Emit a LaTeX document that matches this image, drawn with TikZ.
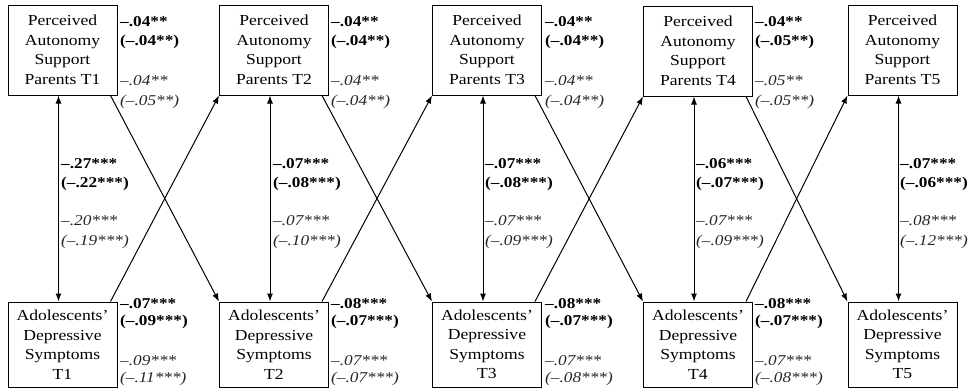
\documentclass[tikz,border=0pt]{standalone}
\usepackage{fontspec}
\setmainfont{Liberation Serif}[FakeStretch=1.15]
\usetikzlibrary{arrows.meta}
\newcommand\coefpair[7]{%
  \node[#5,anchor=base west] (#1a) at (#2,#3) {#6};
  \node[#5,anchor=base west] (#1b) at (#2,#4) {#7};}
\begin{document}
\begin{tikzpicture}[x=1pt,y=-1pt,
  varbox/.style={draw,line width=1pt,inner sep=0pt,minimum width=109pt,align=center,
    font=\fontsize{15.3}{19.5}\selectfont},
  topbox/.style={varbox,minimum height=90pt},
  botbox/.style={varbox,minimum height=85pt},
  bcoef/.style={inner sep=0pt,font=\fontsize{15}{18}\selectfont\bfseries},
  icoef/.style={inner sep=0pt,font=\fontsize{15}{18}\selectfont\itshape,text=black!85},
  conn/.style={line width=1pt,-{Latex[length=8pt,width=6pt]}},
  biconn/.style={line width=1pt,{Latex[length=8pt,width=6pt]}-{Latex[length=8pt,width=6pt]}}]
\useasboundingbox (0,0) rectangle (969,389);
% top boxes
\node[topbox] (p1) at (62.5,50) {Perceived\\Autonomy\\Support\\Parents T1};
\node[topbox] (p2) at (274,50) {Perceived\\Autonomy\\Support\\Parents T2};
\node[topbox] (p3) at (487,50) {Perceived\\Autonomy\\Support\\Parents T3};
\node[topbox] (p4) at (698,51) {Perceived\\Autonomy\\Support\\Parents T4};
\node[topbox] (p5) at (902.5,50) {Perceived\\Autonomy\\Support\\Parents T5};
% bottom boxes
\node[botbox] (d1) at (62.5,344.5) {Adolescents’\\Depressive\\Symptoms\\T1};
\node[botbox] (d2) at (274,344.5) {Adolescents’\\Depressive\\Symptoms\\T2};
\node[botbox] (d3) at (487,344.5) {Adolescents’\\Depressive\\Symptoms\\T3};
\node[botbox] (d4) at (698,344.5) {Adolescents’\\Depressive\\Symptoms\\T4};
\node[botbox] (d5) at (902.5,344.5) {Adolescents’\\Depressive\\Symptoms\\T5};
% vertical double arrows
\foreach \i in {1,...,5}{
  \draw[biconn] ([xshift=-4pt]p\i.south) -- ([xshift=-4pt]d\i.north);
}
% cross-lagged arrows
\foreach \i/\j in {1/2,2/3,3/4,4/5}{
  \draw[conn] ([xshift=-7pt]p\i.south east) -- (d\j.north west);
  \draw[conn] ([xshift=-7pt]d\i.north east) -- (p\j.south west);
}
% stability coefficients, top
\coefpair{tb1}{120}{26}{45}{bcoef}{–.04**}{(–.04**)}
\coefpair{ti1}{120}{85}{105}{icoef}{–.04**}{(–.05**)}
\coefpair{tb2}{331}{26}{45}{bcoef}{–.04**}{(–.04**)}
\coefpair{ti2}{331}{85}{105}{icoef}{–.04**}{(–.04**)}
\coefpair{tb3}{545}{26}{45}{bcoef}{–.04**}{(–.04**)}
\coefpair{ti3}{545}{85}{105}{icoef}{–.04**}{(–.04**)}
\coefpair{tb4}{755}{26}{45}{bcoef}{–.04**}{(–.05**)}
\coefpair{ti4}{755}{85}{105}{icoef}{–.05**}{(–.05**)}
% correlations
\coefpair{vb1}{61}{168}{187}{bcoef}{–.27***}{(–.22***)}
\coefpair{vi1}{61}{225}{245}{icoef}{–.20***}{(–.19***)}
\coefpair{vb2}{273}{168}{187}{bcoef}{–.07***}{(–.08***)}
\coefpair{vi2}{273}{225}{245}{icoef}{–.07***}{(–.10***)}
\coefpair{vb3}{485}{168}{187}{bcoef}{–.07***}{(–.08***)}
\coefpair{vi3}{485}{225}{245}{icoef}{–.07***}{(–.09***)}
\coefpair{vb4}{696}{168}{187}{bcoef}{–.06***}{(–.07***)}
\coefpair{vi4}{696}{225}{245}{icoef}{–.07***}{(–.09***)}
\coefpair{vb5}{900}{168}{187}{bcoef}{–.07***}{(–.06***)}
\coefpair{vi5}{900}{225}{245}{icoef}{–.08***}{(–.12***)}
% bottom coefficients
\coefpair{bb1}{120}{308}{325}{bcoef}{–.07***}{(–.09***)}
\coefpair{bi1}{120}{365}{382}{icoef}{–.09***}{(–.11***)}
\coefpair{bb2}{331}{308}{325}{bcoef}{–.08***}{(–.07***)}
\coefpair{bi2}{331}{365}{382}{icoef}{–.07***}{(–.07***)}
\coefpair{bb3}{545}{308}{325}{bcoef}{–.08***}{(–.07***)}
\coefpair{bi3}{545}{365}{382}{icoef}{–.07***}{(–.08***)}
\coefpair{bb4}{755}{308}{325}{bcoef}{–.08***}{(–.07***)}
\coefpair{bi4}{755}{365}{382}{icoef}{–.07***}{(–.08***)}
\end{tikzpicture}
\end{document}
